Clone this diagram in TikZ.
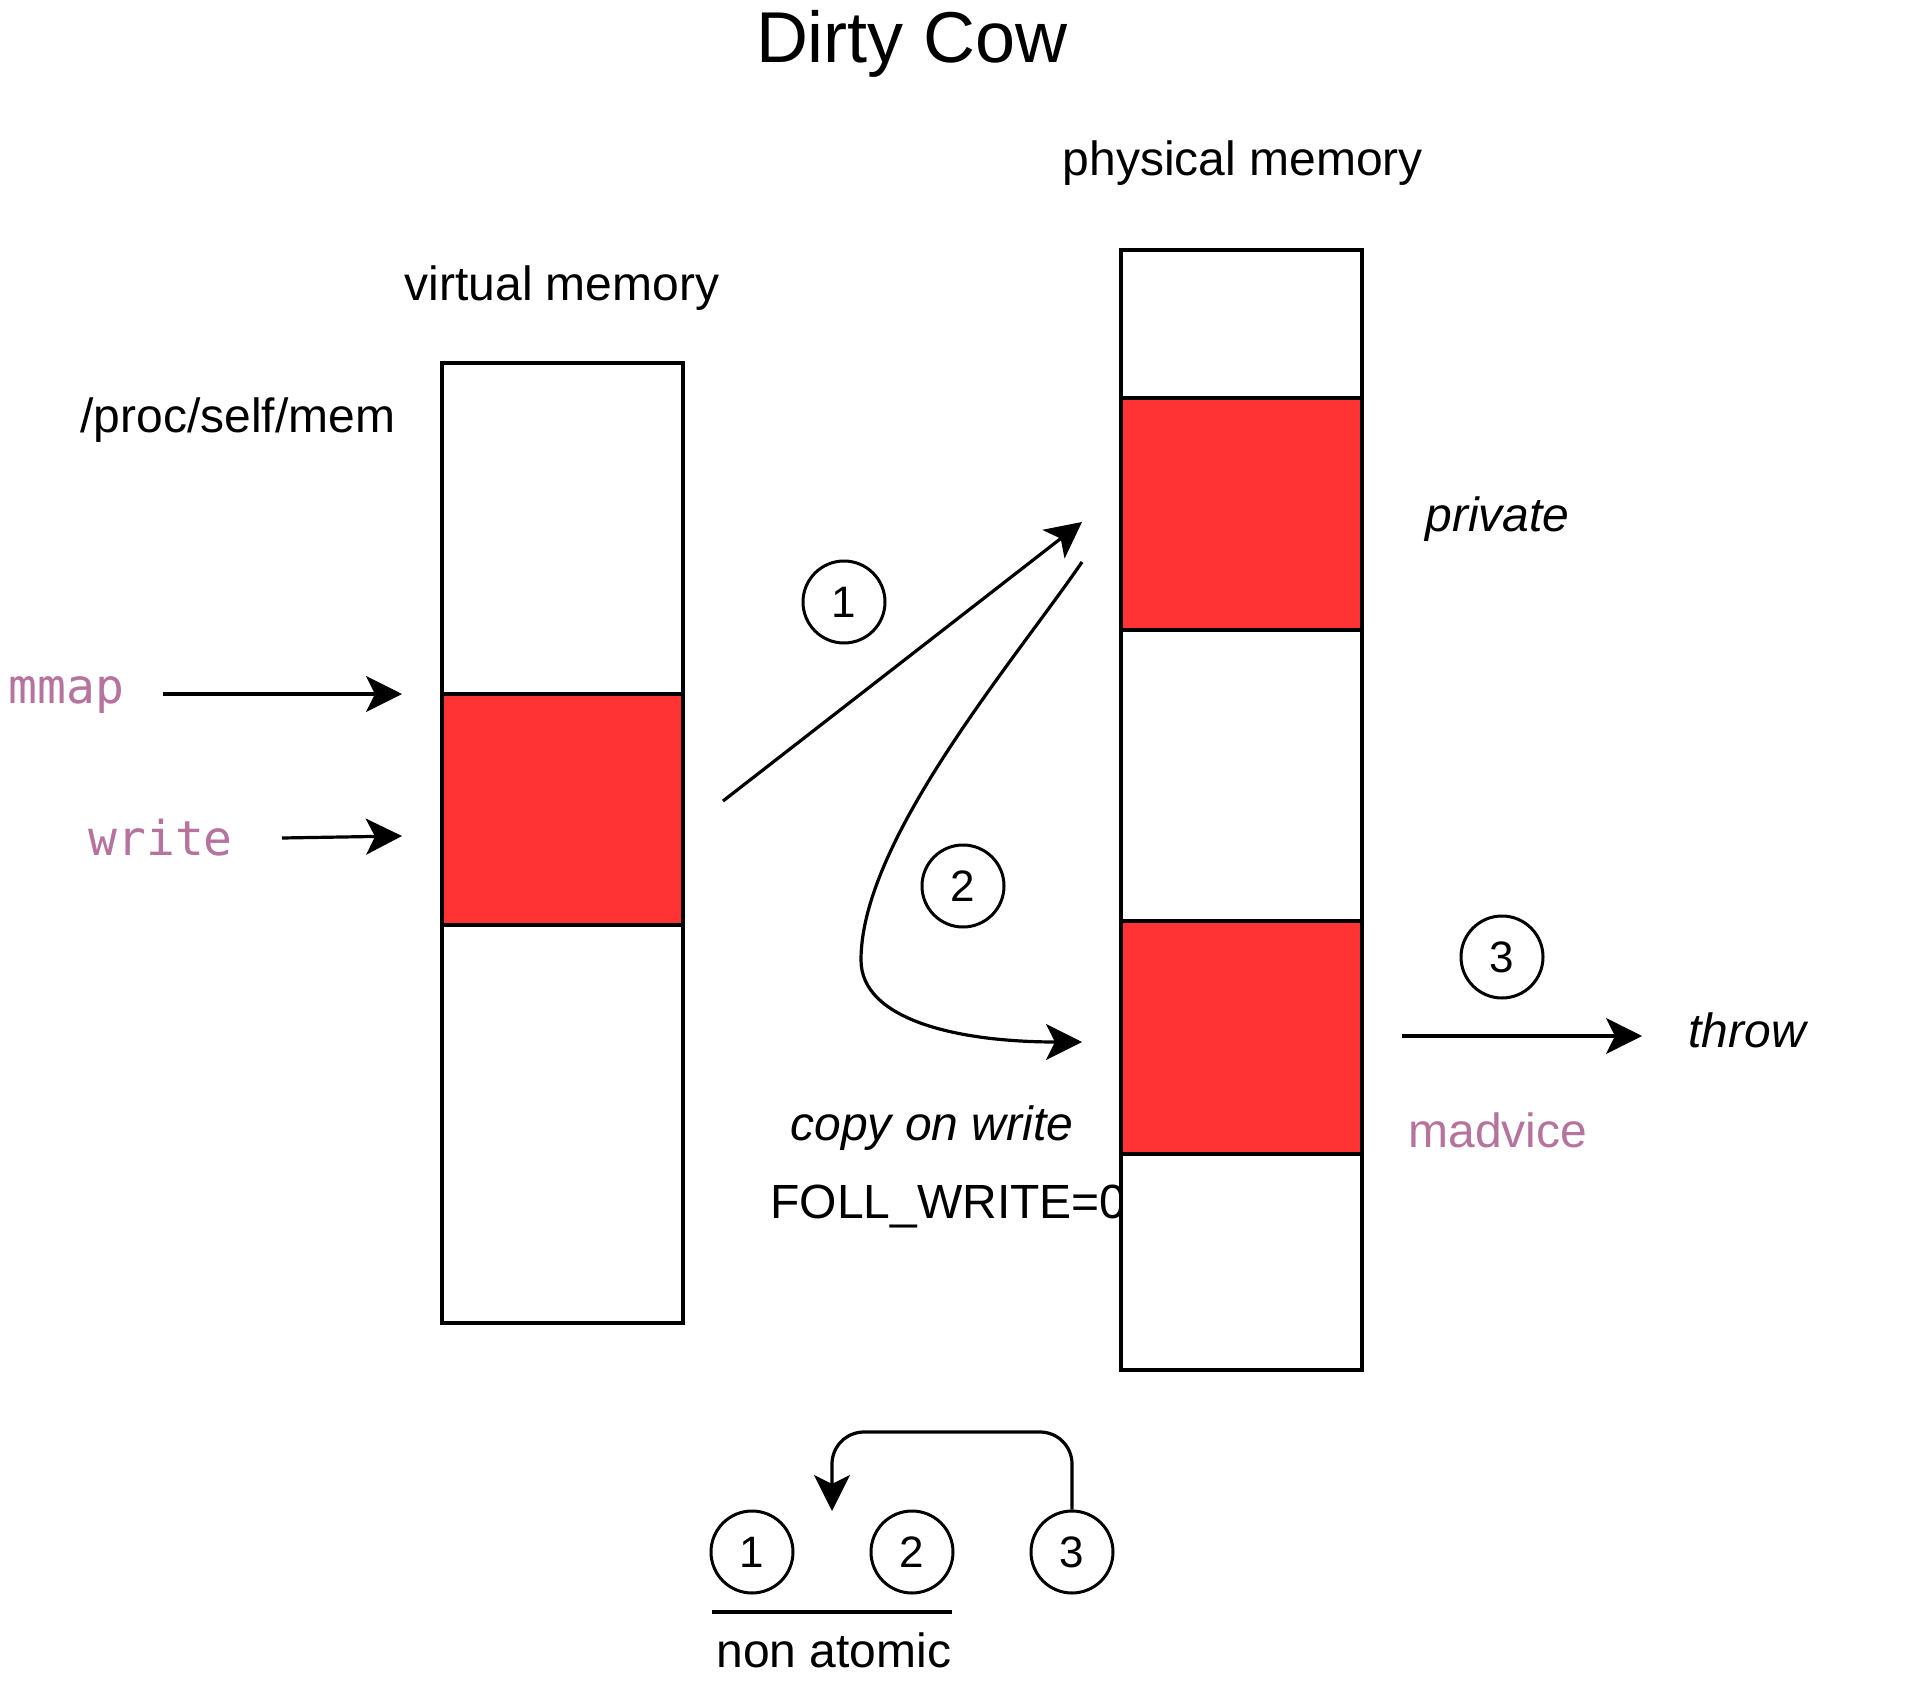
\documentclass[tikz,border=0pt]{standalone}
\usepackage{fontspec}
\setmainfont{Liberation Sans}
\setmonofont{DejaVu Sans Mono}
\usetikzlibrary{arrows.meta}
\definecolor{memred}{HTML}{FF3333}
\definecolor{callpurple}{HTML}{B5739D}
\tikzset{
	lbl/.style={inner sep=0pt,font=\fontsize{24}{29}\selectfont},
	call/.style={inner sep=0pt,text=callpurple,font=\fontsize{24}{29}\selectfont},
	num/.style={draw,circle,line width=1.5pt,minimum size=41pt,inner sep=0pt,font=\fontsize{22}{27}\selectfont},
	arr/.style={line width=1.6pt,-{Stealth[length=18pt,width=18pt,inset=4.5pt]}},
	cell/.style={draw,line width=2pt,fill=white},
	hot/.style={draw,line width=2pt,fill=memred}
}
\begin{document}
\begin{tikzpicture}[x=0.5pt,y=-0.5pt]
	\useasboundingbox (0,0) rectangle (1928,1696);
	\node[lbl,font=\fontsize{36}{43}\selectfont,anchor=base] (title) at (912,63) {Dirty Cow};
	\node[lbl,anchor=base] (physlbl) at (1243,176) {physical memory};
	\node[lbl,anchor=base] (virtlbl) at (562,300) {virtual memory};
	\node[lbl,anchor=base west] (proclbl) at (80,432) {/proc/self/mem};
	\node[call,font=\ttfamily\fontsize{24}{29}\selectfont,anchor=base west] (mmaplbl) at (8,703) {mmap};
	\node[call,font=\ttfamily\fontsize{24}{29}\selectfont,anchor=base west] (writelbl) at (88,855) {write};
	\node[lbl,font=\itshape\fontsize{24}{29}\selectfont,anchor=base west] (privlbl) at (1425,531) {private};
	\node[lbl,font=\itshape\fontsize{24}{29}\selectfont,anchor=base west] (cowlbl) at (790,1140) {copy on write};
	\node[lbl,anchor=base west] (folllbl) at (770,1218) {FOLL\_WRITE=0};
	\node[lbl,font=\itshape\fontsize{24}{29}\selectfont,anchor=base west] (throwlbl) at (1688,1047) {throw};
	\node[call,anchor=base west] (madvlbl) at (1408,1147) {madvice};
	\node[lbl,anchor=base west] (nonatomic) at (716,1667) {non atomic};
	% virtual memory
	\draw[cell] (442,363) rectangle (683,694);
	\draw[hot] (442,694) rectangle (683,925);
	\draw[cell] (442,925) rectangle (683,1323);
	% physical memory
	\draw[cell] (1121,250) rectangle (1362,398);
	\draw[hot] (1121,398) rectangle (1362,630);
	\draw[cell] (1121,630) rectangle (1362,921);
	\draw[hot] (1121,921) rectangle (1362,1154);
	\draw[cell] (1121,1154) rectangle (1362,1370);
	\coordinate (mmaps) at (163,694);
	\coordinate (mmape) at (402,694);
	\coordinate (writes) at (282,838);
	\coordinate (writee) at (402,836);
	\draw[arr] (mmaps)--(mmape);
	\draw[arr] (writes)--(writee);
	\node[num] (n1) at (844,602) {1};
	\node[num] (n2) at (963,886) {2};
	\node[num] (n3) at (1502,957) {3};
	\coordinate (a1s) at (723,801);
	\coordinate (a1e) at (1082,522);
	\coordinate (a2s) at (1082,562);
	\coordinate (a2e) at (1082,1042);
	\coordinate (a3s) at (1402,1036);
	\coordinate (a3e) at (1642,1036);
	\draw[arr] (a1s)--(a1e);
	\draw[arr] (a2s) .. controls (1015,660) and (861,840) .. (861,960) .. controls (861,1020) and (958,1042) .. (a2e);
	\draw[arr] (a3s)--(a3e);
	% order of the steps
	\node[num] (b1) at (752,1552) {1};
	\node[num] (b2) at (912,1552) {2};
	\node[num] (b3) at (1072,1552) {3};
	\coordinate (ul) at (712,1612);
	\coordinate (ur) at (952,1612);
	\coordinate (back) at (832,1511);
	\draw[line width=1.6pt] (ul)--(ur);
	\draw[arr,rounded corners=16pt] (b3.north) |- (832,1432) -- (back);
\end{tikzpicture}
\end{document}
